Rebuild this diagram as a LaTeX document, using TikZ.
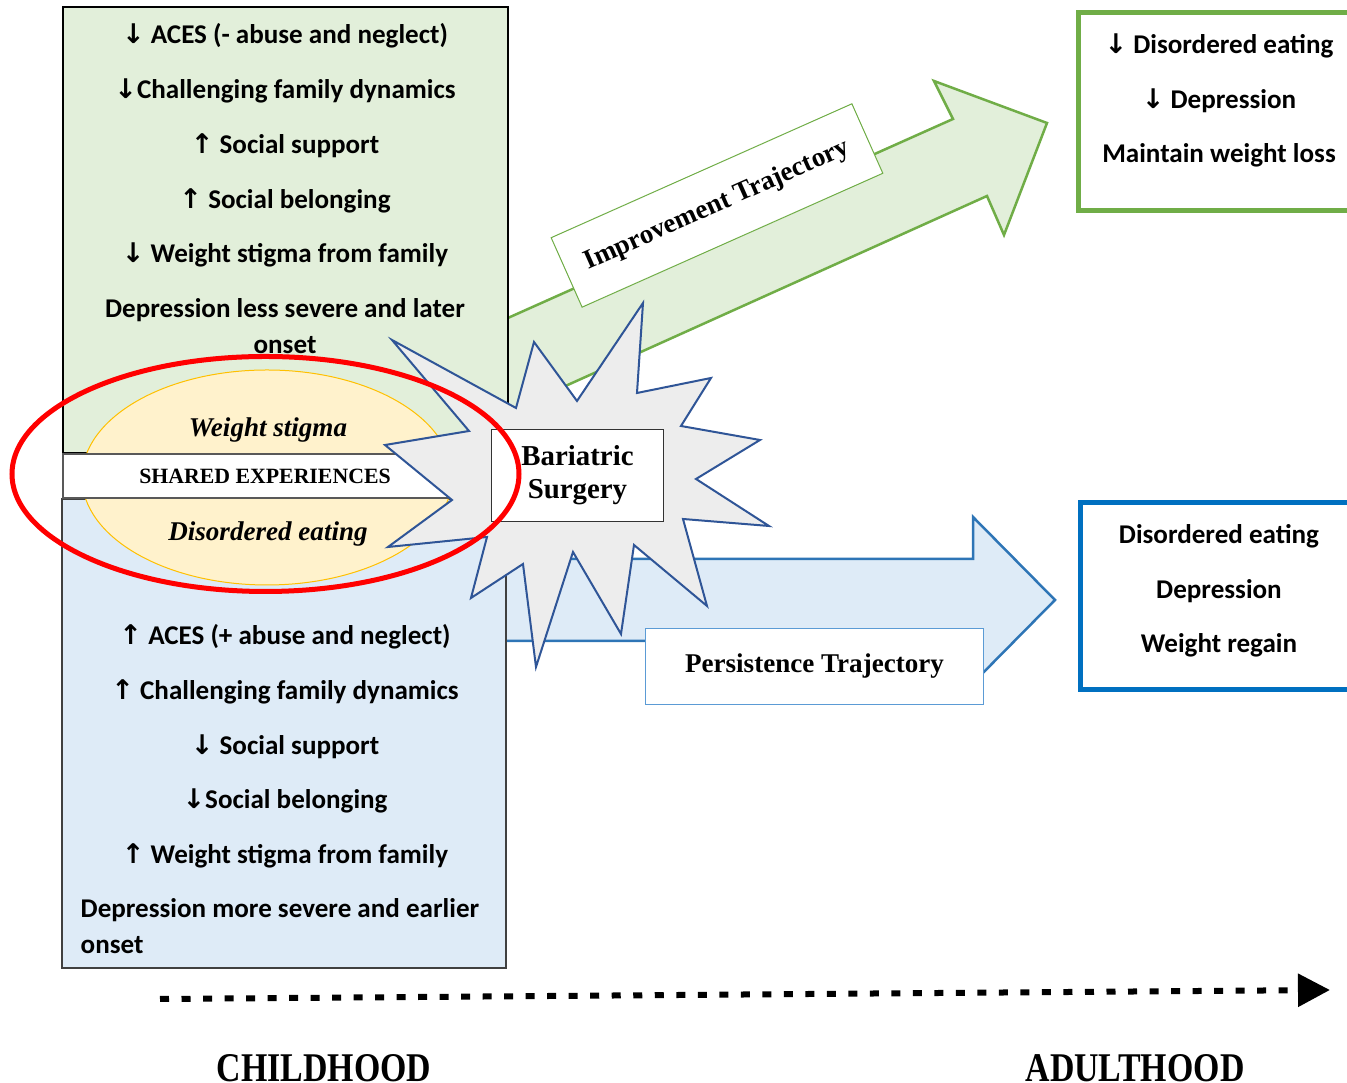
\documentclass[tikz,border=0pt]{standalone}
\usepackage{fontspec}
\setmainfont{Liberation Serif}
\setsansfont{Carlito}
\newfontfamily\arrowfont{DejaVu Sans}
\usetikzlibrary{arrows.meta,calc,positioning}
\definecolor{gfill}{HTML}{E2EFDA}
\definecolor{gline}{HTML}{70AD47}
\definecolor{bfill}{HTML}{DEEBF7}
\definecolor{bline}{HTML}{2E75B6}
\definecolor{plabel}{HTML}{5B9BD5}
\definecolor{bres}{HTML}{0070C0}
\definecolor{yfill}{HTML}{FFF2CC}
\definecolor{yline}{HTML}{FFC000}
\definecolor{sfill}{HTML}{EDEDED}
\definecolor{sline}{HTML}{2F5597}
\newcommand{\arrdown}{{\arrowfont ↓}}
\newcommand{\arrup}{{\arrowfont ↑}}

\begin{document}
\begin{tikzpicture}[x=0.01cm,y=-0.01cm,line join=miter,
	item/.style={font=\sffamily\bfseries\fontsize{7.7}{10.2}\selectfont,anchor=base,inner sep=0pt},
	seriftxt/.style={font=\rmfamily\bfseries\fontsize{7.7}{9.4}\selectfont},
	trajbox/.style={seriftxt,fill=white,line width=0.01cm,minimum height=0.76cm},
	bigarrow/.style={line width=0.025cm},
	outcome/.style={line width=0.05cm,fill=white},
	age/.style={font=\rmfamily\bfseries\fontsize{11.6}{12}\selectfont,anchor=base,inner sep=0pt}]
		\useasboundingbox (0,0) rectangle (1347,1083);
		\coordinate (S) at (577.5,475.5);
		\coordinate (tstart) at (160,999);
		\coordinate (tend) at (1330,990);
		\draw[bigarrow,draw=gline,fill=gfill] (490,326) -- (953,119) -- (934,81) -- (1047,123) -- (1004,235) -- (987,196) -- (490,420) -- cycle;
		\draw[bigarrow,draw=bline,fill=bfill] (480,559) -- (973,559) -- (973,517) -- (1055,600) -- (973,683) -- (973,641) -- (480,641) -- cycle;
		\node[trajbox,draw=gline,rotate=24,minimum width=3.29cm] (impr) at (717,205.5) {Improvement Trajectory};
		\node[trajbox,draw=plabel,minimum width=3.37cm,minimum height=0.75cm] (pers) at (814.5,666.5) {Persistence Trajectory};
		% childhood
		\draw[fill=gfill,line width=0.02cm] (63,7) rectangle (508,453);
		\draw[fill=bfill,draw=black!75,line width=0.015cm] (62,499) rectangle (506,968);
		\foreach \txt/\yy [count=\i] in {{\arrdown\ ACES (- abuse and neglect)}/44, {\arrdown Challenging family dynamics}/99, {\arrup\ Social support}/154, {\arrup\ Social belonging}/209, {\arrdown\ Weight stigma from family}/263, {Depression less severe and later}/318, {onset}/354}{\node[item] (g\i) at (285,\yy) {\txt};}
		\foreach \txt/\yy [count=\i] in {{\arrup\ ACES (+ abuse and neglect)}/645, {\arrup\ Challenging family dynamics}/700, {\arrdown\ Social support}/755, {\arrdown Social belonging}/809, {\arrup\ Weight stigma from family}/864}{\node[item] (b\i) at (285,\yy) {\txt};}
		\node[item,anchor=base west] (b6) at (80,918) {Depression more severe and earlier};
		\node[item,anchor=base west] (b7) at (80,954) {onset};
		\draw[fill=yfill,draw=yline,line width=0.01cm] (267,477.5) ellipse [x radius=185, y radius=107.5];
		\node[seriftxt,font=\rmfamily\bfseries\itshape\fontsize{7.7}{9.4}\selectfont,anchor=base,inner sep=0pt] (ws) at (268,437) {Weight stigma};
		\node[seriftxt,font=\rmfamily\bfseries\itshape\fontsize{7.7}{9.4}\selectfont,anchor=base,inner sep=0pt] (de) at (268,541) {Disordered eating};
		\draw[fill=white,draw=black!65,line width=0.015cm] (63,454) rectangle (470,498);
		\node[font=\rmfamily\bfseries\fontsize{6.2}{7}\selectfont,anchor=base,inner sep=0pt] (shared) at (265,484) {SHARED EXPERIENCES};
		% surgery
		\draw[fill=sfill,draw=sline,line width=0.02cm] (392,340) -- (516,408) -- (534,342) -- (577,401) -- (643,303) -- (637,393) -- (711,378) -- (681,426) -- (760,440) -- (696,479) -- (769,526) -- (683,519) -- (707,606) -- (634,545) -- (621,634) -- (573,552) -- (536,667) -- (523,564) -- (471,598) -- (487,537) -- (388,547) -- (452,500) -- (385,445) -- (469,431) -- cycle;
		\node[seriftxt,font=\rmfamily\bfseries\fontsize{8.2}{9.4}\selectfont,draw=black!80,fill=white,line width=0.01cm,align=center,minimum width=1.71cm,minimum height=0.91cm,inner sep=0pt] (surg) at (S) {Bariatric\\Surgery};
		\draw[red,line width=0.05cm] (265.5,474) ellipse [x radius=253.5, y radius=117.5];
		% adulthood
		\draw[outcome,draw=gline] (1078.5,13) rectangle (1380,210.5);
		\draw[outcome,draw=bres] (1080,503) rectangle (1380,690);
		\foreach \txt/\yy [count=\i] in {{\arrdown\ Disordered eating}/53.5, {\arrdown\ Depression}/108.5, {Maintain weight loss}/163}{\node[item] (ga\i) at (1219,\yy) {\txt};}
		\foreach \txt/\yy [count=\i] in {{Disordered eating}/544, {Depression}/599, {Weight regain}/653}{\node[item] (ba\i) at (1219,\yy) {\txt};}
		\draw[line width=0.06cm,dash pattern=on 0.09cm off 0.125cm,-{Triangle[length=0.32cm,width=0.32cm]}] (tstart) -- (tend);
		\node[age] (child) at (324,1082) {\scalebox{0.83}[1]{CHILDHOOD}};
		\node[age] (adult) at (1135,1082) {\scalebox{0.83}[1]{ADULTHOOD}};
\end{tikzpicture}
\end{document}
